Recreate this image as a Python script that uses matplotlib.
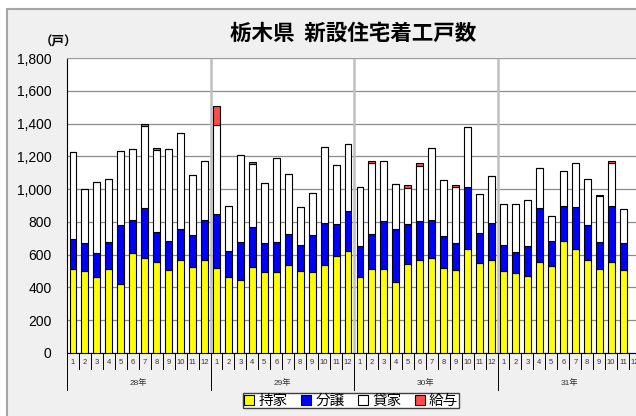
import matplotlib
matplotlib.use('Agg')
import matplotlib.pyplot as plt
from matplotlib.patches import Rectangle, Patch

plt.rcParams['font.family'] = ['Liberation Sans', 'Noto Sans CJK JP']

years = ['28年', '29年', '30年', '31年']
months = [str(m) for m in range(1, 13)]

# 28年1月 .. 31年11月 (47 months)
mochiya = [512, 498, 463, 510, 422, 610, 579, 553, 506, 567, 524, 567,
           516, 463, 443, 522, 496, 496, 534, 498, 492, 534, 590, 622,
           463, 512, 510, 435, 543, 565, 581, 518, 506, 634, 549, 565,
           500, 486, 469, 553, 530, 685, 636, 565, 510, 555, 508]
bunjo = [186, 175, 149, 169, 359, 204, 306, 183, 175, 192, 194, 247,
         335, 161, 232, 245, 175, 181, 192, 159, 228, 258, 197, 247,
         192, 214, 298, 320, 242, 241, 229, 194, 165, 378, 181, 227,
         157, 128, 182, 330, 155, 215, 253, 218, 169, 345, 165]
kashiya = [530, 325, 432, 384, 453, 430, 500, 502, 563, 581, 367, 355,
           542, 272, 533, 388, 369, 510, 367, 234, 255, 465, 359, 406,
           359, 431, 365, 275, 221, 338, 441, 341, 339, 369, 241, 285,
           253, 294, 281, 247, 151, 208, 268, 276, 276, 259, 208]
kyuyo = [0, 0, 0, 0, 0, 0, 12, 10, 0, 0, 0, 0,
         115, 0, 0, 12, 0, 0, 0, 0, 0, 0, 0, 0,
         0, 14, 0, 0, 18, 17, 0, 0, 14, 0, 0, 0,
         0, 0, 0, 0, 0, 0, 0, 0, 10, 12, 0]

series_names = ['持家', '分譲', '貸家', '給与']
series_colors = ['#ffff00', '#0000ff', '#ffffff', '#ff4b4b']

W, H = 636, 416
fig = plt.figure(figsize=(W / 100, H / 100), dpi=100)
fig.patch.set_facecolor('white')
fig.add_artist(Rectangle((7 / W, -0.1), 1.0, (H - 9) / H + 0.1,
                         transform=fig.transFigure, facecolor='#f0f0f0',
                         edgecolor='#a6a6a6', lw=1.5, zorder=0))

ax = fig.add_axes([67 / W, (H - 353) / H, 574 / W, 295 / H])
ax.set_facecolor('white')
ax.set_xlim(-0.5, 47.5)
ax.set_ylim(0, 1800)

x = list(range(len(mochiya)))
bottom = [0] * len(x)
for vals, c in zip([mochiya, bunjo, kashiya, kyuyo], series_colors):
    ax.bar(x, vals, bottom=bottom, width=0.58, color=c,
           edgecolor='black', lw=0.8, zorder=3)
    bottom = [b + v for b, v in zip(bottom, vals)]

ax.set_yticks(range(0, 1801, 200))
ax.set_yticklabels([f'{v:,}' for v in range(0, 1801, 200)], fontsize=10)
ax.tick_params(axis='y', length=0, pad=11)
ax.set_xticks([])
ax.yaxis.grid(True, color='#8c8c8c', lw=0.9)
ax.set_axisbelow(True)
for k in (12, 24, 36):
    ax.axvline(k - 0.5, color='#c0c0c0', lw=1.8, zorder=1)

for side in ('left', 'bottom'):
    ax.spines[side].set_color('black')
for side in ('top', 'right'):
    ax.spines[side].set_color('#a0a0a0')

# two-level category axis
trans = ax.get_xaxis_transform()
for k in range(49):
    low = -37 / 295 if k % 12 == 0 else -16 / 295
    ax.plot([k - 0.5, k - 0.5], [0, low], transform=trans, color='black',
            lw=0.7, clip_on=False)
for j, yr in enumerate(years):
    for i, m in enumerate(months):
        ax.text(12 * j + i, -10 / 295, m, transform=trans, ha='center',
                va='center', fontsize=5.5, color='#333333')
    ax.text(12 * j + 5.5, -30 / 295, yr, transform=trans, ha='center',
            va='center', fontsize=6, color='#333333')

fig.text(353 / W, (H - 33) / H, '栃木県  新設住宅着工戸数', ha='center',
         va='center', fontsize=15.5, fontweight='bold', family='Noto Sans CJK JP')
fig.text(59 / W, (H - 42) / H, '（戸）', ha='center', va='center',
         fontsize=9, fontweight='bold', family='Noto Sans CJK JP')

handles = [Patch(facecolor=c, edgecolor='black', lw=0.8) for c in series_colors]
leg = fig.legend(handles, series_names, loc='upper center',
                 bbox_to_anchor=(351 / W, (H - 393) / H), ncol=4,
                 fancybox=False, edgecolor='#404040', framealpha=1,
                 handlelength=0.7, handleheight=0.7, handletextpad=0.3,
                 columnspacing=0.9, borderpad=0.05, borderaxespad=0,
                 prop={'family': 'Noto Sans CJK JP', 'size': 10.5})

fig.savefig('out.png', dpi=100)
